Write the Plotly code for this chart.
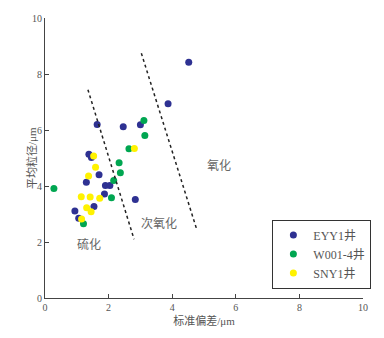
import plotly.graph_objects as go

# Data
eyy_x = [4.52, 3.87, 1.64, 2.46, 3.00, 1.38, 1.46, 1.70, 1.30, 1.90, 2.04, 1.87, 2.84, 1.54, 0.94, 1.06]
eyy_y = [8.42, 6.94, 6.20, 6.12, 6.19, 5.13, 5.02, 4.40, 4.13, 4.02, 4.02, 3.71, 3.52, 3.27, 3.11, 2.85]
w_x = [3.11, 3.14, 2.64, 2.33, 2.37, 2.16, 2.09, 0.28, 1.21]
w_y = [6.34, 5.80, 5.33, 4.83, 4.47, 4.20, 3.58, 3.91, 2.65]
s_x = [2.81, 1.53, 1.59, 1.37, 1.14, 1.42, 1.72, 1.31, 1.45, 1.15]
s_y = [5.34, 5.07, 4.67, 4.36, 3.62, 3.61, 3.56, 3.22, 3.08, 2.82]

line1_x = [1.35, 2.80]
line1_y = [7.44, 2.10]
line2_x = [3.03, 4.78]
line2_y = [8.74, 2.42]

labels = ["硫化", "次氧化", "氧化"]
label_x = [1.37, 3.6, 5.48]
label_y = [1.9, 2.65, 4.73]

series_names = ["EYY1井", "W001-4井", "SNY1井"]
colors = ["#2e3192", "#00a651", "#fff200"]

FONT = "Liberation Serif, Noto Sans CJK SC, serif"
TXT = "#555555"

fig = go.Figure()
for xs, ys, name, c in zip([eyy_x, w_x, s_x], [eyy_y, w_y, s_y], series_names, colors):
    fig.add_trace(go.Scatter(x=xs, y=ys, mode="markers", name=name,
                             marker=dict(color=c, size=7, line=dict(width=0))))
for lx, ly in [(line1_x, line1_y), (line2_x, line2_y)]:
    fig.add_trace(go.Scatter(x=lx, y=ly, mode="lines", showlegend=False,
                             line=dict(color="#222222", width=1.5, dash="dot")))

for t, x, y in zip(labels, label_x, label_y):
    fig.add_annotation(x=x, y=y, text=t, showarrow=False,
                       font=dict(family=FONT, size=12, color="#666666"))

fig.add_annotation(xref="paper", yref="paper", x=0, y=0.5, xshift=-14,
                   text="平均粒径/μm", textangle=-90, showarrow=False,
                   xanchor="center", yanchor="middle",
                   font=dict(family=FONT, size=11, color=TXT))

fig.update_layout(
    width=384, height=338,
    margin=dict(l=45, r=21, t=14, b=35),
    paper_bgcolor="white", plot_bgcolor="white",
    font=dict(family=FONT, size=11, color=TXT),
    legend=dict(x=0.715, y=0.28, xanchor="left", yanchor="top",
                bordercolor="#333333", borderwidth=1, bgcolor="white",
                font=dict(family=FONT, size=12, color=TXT),
                itemwidth=30, tracegroupgap=2),
    xaxis=dict(range=[0, 10], tickvals=[0, 2, 4, 6, 8, 10], showgrid=False, zeroline=False,
               showline=True, linecolor="#444444", linewidth=1,
               ticks="inside", ticklen=4, tickcolor="#444444",
               tickfont=dict(family=FONT, size=10, color=TXT),
               title=dict(text="标准偏差/μm", standoff=5, font=dict(family=FONT, size=11, color=TXT))),
    yaxis=dict(range=[0, 10], tickvals=[0, 2, 4, 6, 8, 10], showgrid=False, zeroline=False,
               showline=True, linecolor="#444444", linewidth=1,
               ticks="inside", ticklen=4, tickcolor="#444444",
               tickfont=dict(family=FONT, size=10, color=TXT)),
)

fig.write_html("out.html")
